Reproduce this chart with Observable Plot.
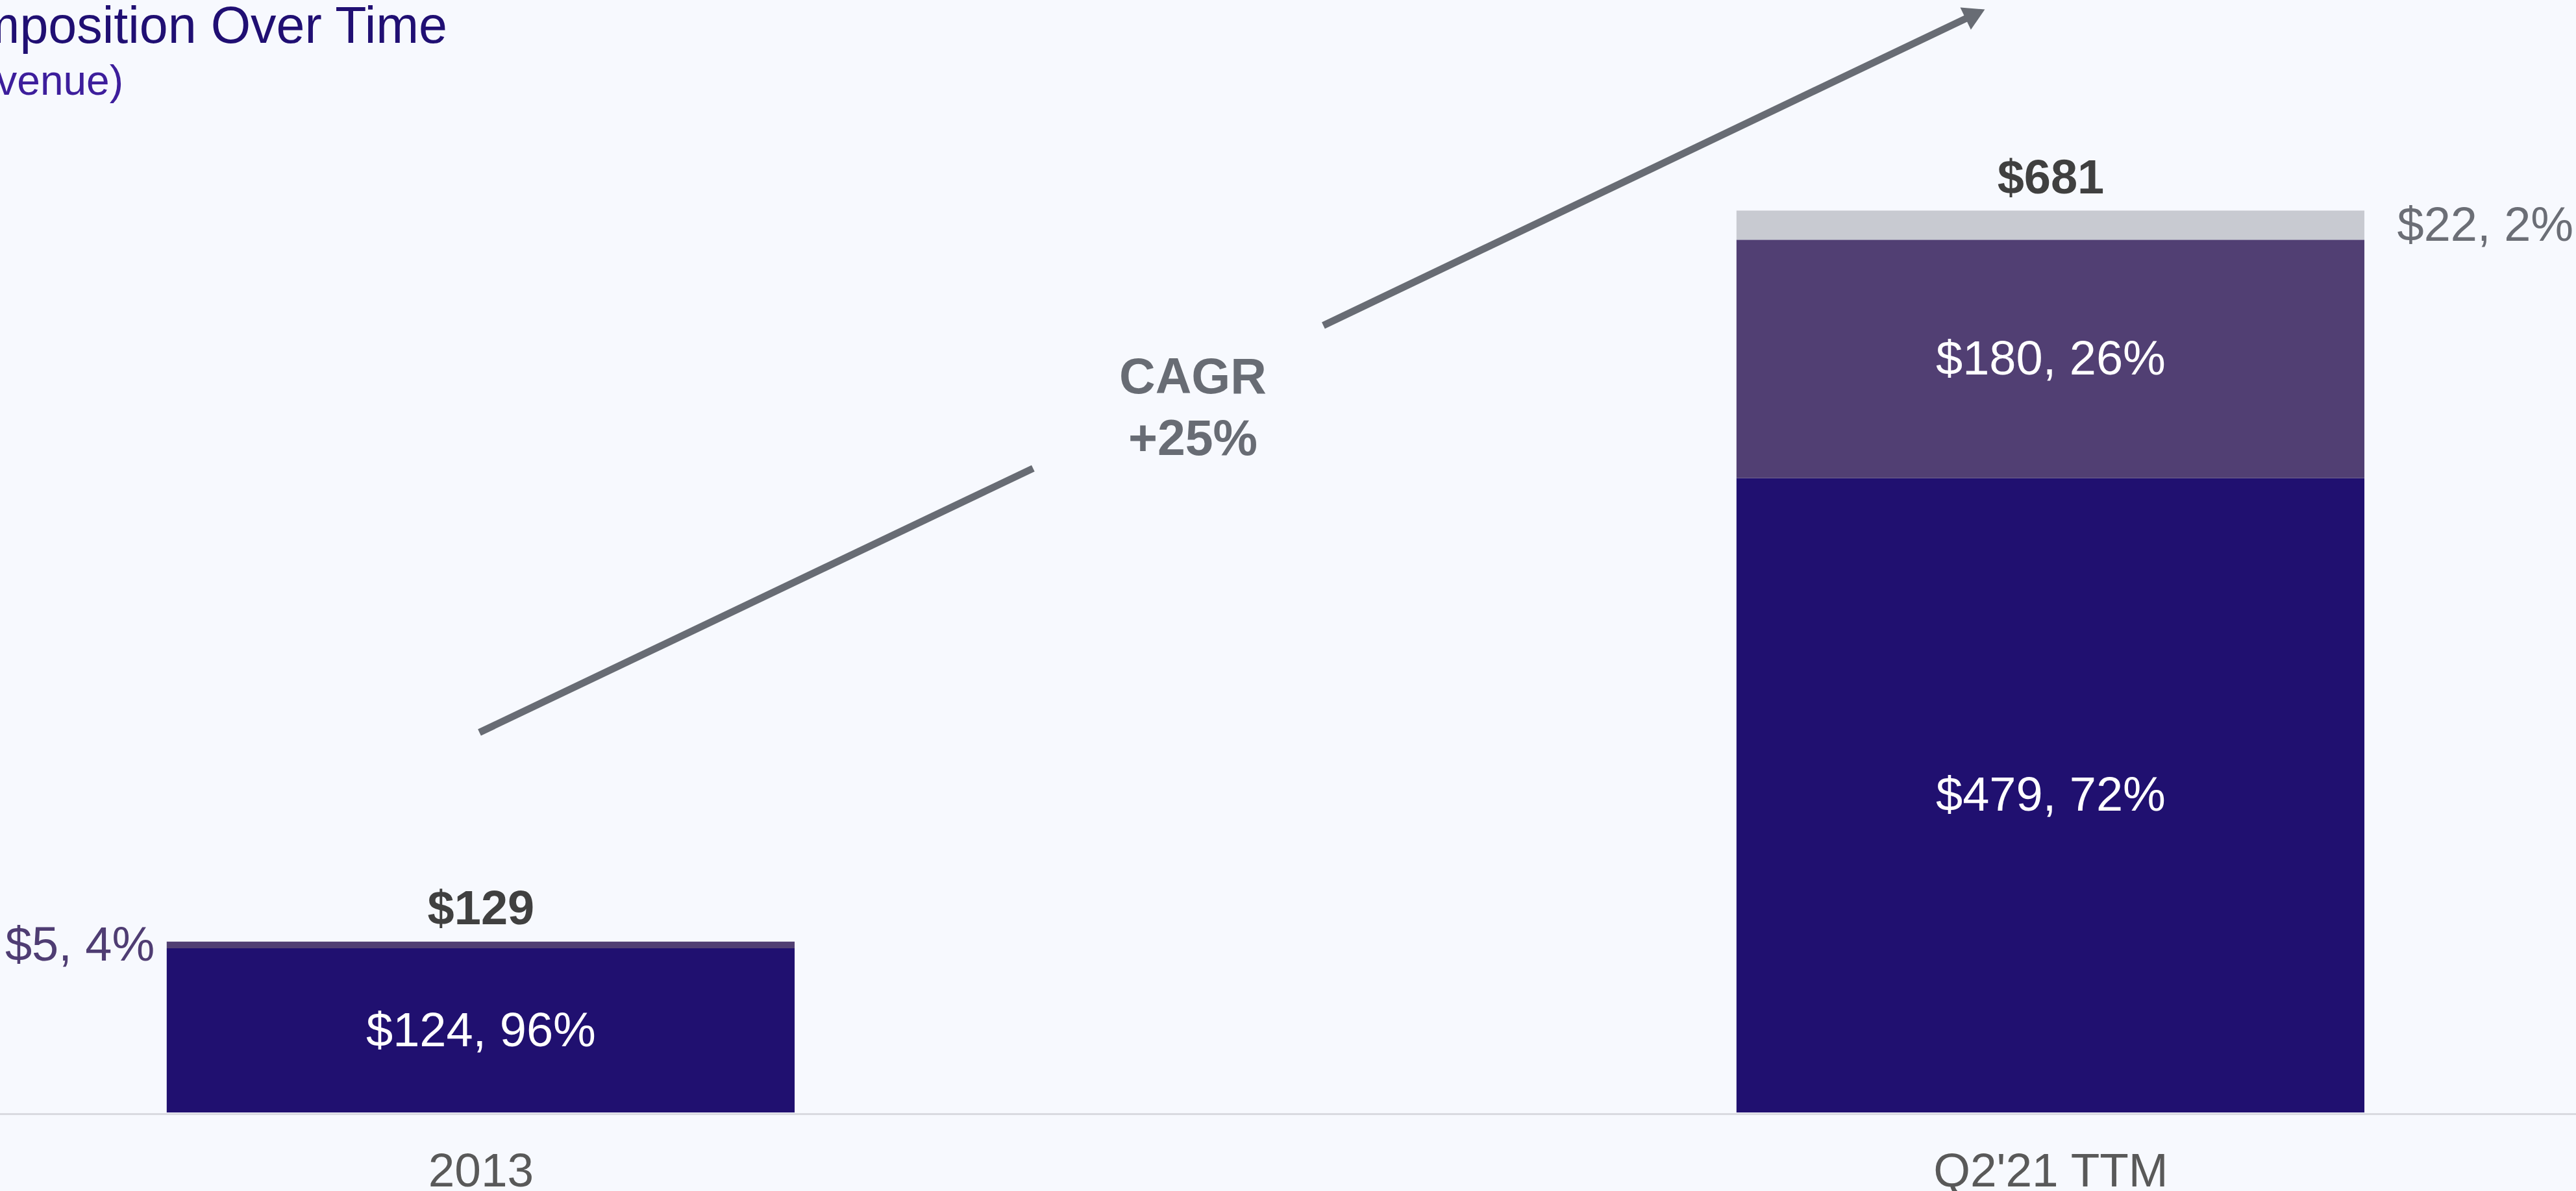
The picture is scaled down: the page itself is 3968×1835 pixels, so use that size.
<!DOCTYPE html>
<html>
<head>
<meta charset="utf-8">
<script src="https://cdn.jsdelivr.net/npm/d3@7"></script>
<script src="https://cdn.jsdelivr.net/npm/@observablehq/plot@0.6"></script>
<style>
  html, body { margin: 0; padding: 0; background: #f7f9fe; overflow: hidden; width: 3968px; height: 1835px; }
  #wrap { position: relative; width: 3968px; height: 1835px; overflow: hidden; }
  #chart { position: absolute; left: 0; top: 0; }
  .ttl { position: absolute; white-space: nowrap; font-family: "Liberation Sans", Arial, sans-serif; line-height: 1; }
  #t1 { right: 3279px; top: -1px; font-size: 79px; color: #200f73; }
  #t2 { right: 3778px; top: 92px; font-size: 64px; color: #3d1e9c; }
</style>
</head>
<body>
<div id="wrap">
  <div id="chart"></div>
  <div class="ttl" id="t1">Revenue Composition Over Time</div>
  <div class="ttl" id="t2">($ in millions, % of revenue)</div>
</div>
<script>
// ---- data ----
const categories = ["2013", "Q2'21 TTM"];
const series = ["Segment A", "Segment B", "Segment C"];
const values2013 = [124, 5, 0];
const valuesQ221 = [479, 180, 22];
const pct2013 = [96, 4, 0];
const pctQ221 = [72, 26, 2];
const totals = [129, 681];
const cagrText = ["CAGR\n+25%"];
// annotation arrow, in data units (x: category index, y: $M)
const cagrArrowX = [-0.001, 0.3517, 0.5366, 0.958];
const cagrArrowY = [287.2, 486.6, 594.5, 833.1];
const cagrLabelPos = [0.4535, 535];

// ---- build table ----
const valuesByCat = [values2013, valuesQ221];
const pctByCat = [pct2013, pctQ221];
const rows = [];
categories.forEach((cat, i) => {
  let acc = 0;
  series.forEach((s, j) => {
    const v = valuesByCat[i][j];
    if (v > 0) {
      rows.push({cat, i, series: s, j, value: v, y1: acc, y2: acc + v,
                 label: `$${v}, ${pctByCat[i][j]}%`, inside: v / totals[i] >= 0.1});
    }
    acc += v;
  });
});
const totalRows = categories.map((cat, i) => ({i, total: totals[i], label: `$${totals[i]}`}));
const segs = [
  {x1: cagrArrowX[0], y1: cagrArrowY[0], x2: cagrArrowX[1], y2: cagrArrowY[1]},
  {x1: cagrArrowX[2], y1: cagrArrowY[2], x2: cagrArrowX[3], y2: cagrArrowY[3]}
];
const tip = [{x: cagrArrowX[3], y: cagrArrowY[3]}];

const FONT = '"Liberation Sans", Arial, Helvetica, sans-serif';
const half = 0.2;
const outsideColor = {"Segment B": "#4f3d73", "Segment C": "#6b6e76"};
const GREY = "#686c74";

const chart = Plot.plot({
  width: 3968,
  height: 1835,
  marginTop: 0, marginRight: 0, marginBottom: 121, marginLeft: 0,
  style: {background: "#f7f9fe", fontFamily: FONT, color: "#595959", overflow: "visible"},
  x: {type: "linear", domain: [-0.3062, 1.3348], axis: null},
  y: {domain: [0, 840], axis: null},
  color: {domain: series, range: ["#201070", "#513f73", "#c8cad1"]},
  marks: [
    Plot.rect(rows, {x1: d => d.i - half, x2: d => d.i + half, y1: "y1", y2: "y2", fill: "series"}),
    Plot.ruleY([0], {stroke: "#d9dae0", strokeWidth: 3, dy: 2}),
    Plot.axisX({ticks: [0, 1], tickFormat: i => categories[i], tickSize: 0, tickPadding: 62,
                fontSize: 73, label: null, fill: "#595959"}),
    // labels inside segments
    Plot.text(rows.filter(d => d.inside), {x: "i", y: d => (d.y1 + d.y2) / 2, text: "label",
              fill: "white", fontSize: 74}),
    // small segment labels outside: left for first bar, right for second
    Plot.text(rows.filter(d => !d.inside && d.i === 0), {x: d => d.i - half, y: d => (d.y1 + d.y2) / 2,
              text: "label", textAnchor: "end", dx: -19, fontSize: 74, fill: d => outsideColor[d.series]}),
    Plot.text(rows.filter(d => !d.inside && d.i === 1), {x: d => d.i + half, y: d => (d.y1 + d.y2) / 2,
              text: "label", textAnchor: "start", dx: 50, fontSize: 74, fill: d => outsideColor[d.series]}),
    // totals
    Plot.text(totalRows, {x: "i", y: "total", text: "label", lineAnchor: "bottom", dy: -27,
              fontSize: 74, fontWeight: "bold", fill: "#404040"}),
    // CAGR arrow
    Plot.arrow(segs.slice(0, 1), {x1: "x1", y1: "y1", x2: "x2", y2: "y2", stroke: GREY, strokeWidth: 11,
               headLength: 0, strokeLinecap: "butt"}),
    Plot.arrow(segs.slice(1), {x1: "x1", y1: "y1", x2: "x2", y2: "y2", stroke: GREY, strokeWidth: 11,
               headLength: 0, insetEnd: 25, strokeLinecap: "butt"}),
    Plot.dot(tip, {x: "x", y: "y", symbol: "triangle", r: 14.1, fill: GREY, stroke: "none",
             rotate: 64.46, dx: -19.8, dy: 9.4}),
    Plot.text(cagrText, {x: () => cagrLabelPos[0], y: () => cagrLabelPos[1], text: d => d,
              fontSize: 77, fontWeight: "bold", fill: GREY, lineHeight: 1.234})
  ]
});
document.getElementById("chart").appendChild(chart);
</script>
</body>
</html>
